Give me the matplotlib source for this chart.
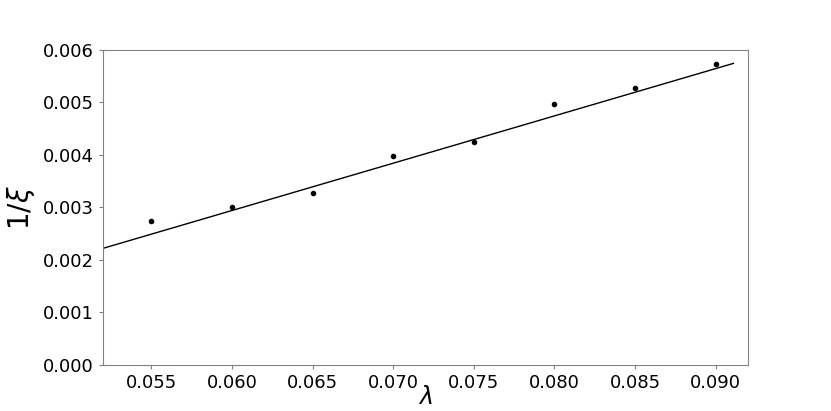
import matplotlib
matplotlib.use("Agg")
import matplotlib.pyplot as plt

lam = [0.055, 0.060, 0.065, 0.070, 0.075, 0.080, 0.085, 0.090]
inv_xi = [0.00274, 0.00300, 0.00328, 0.00397, 0.00425, 0.00497, 0.00527, 0.00572]

# straight fit line as drawn
fit_lam = [0.052, 0.0911]
fit_inv_xi = [0.00222, 0.00574]

fig = plt.figure(figsize=(8.31, 4.11), dpi=100)
ax = fig.add_axes([0.124, 0.112, 0.776, 0.767])

ax.plot(fit_lam, fit_inv_xi, color="black", linewidth=1.0)
ax.plot(lam, inv_xi, "o", color="black", markersize=3)

ax.set_xlim(0.052, 0.092)
ax.set_ylim(0, 0.006)
ax.set_xticks([0.055, 0.060, 0.065, 0.070, 0.075, 0.080, 0.085, 0.090])
ax.set_yticks([0, 0.001, 0.002, 0.003, 0.004, 0.005, 0.006])
ax.set_xticklabels(["%.3f" % v for v in ax.get_xticks()])
ax.set_yticklabels(["%.3f" % v for v in ax.get_yticks()])
ax.tick_params(labelsize=13, color="gray", length=3)
for s in ax.spines.values():
    s.set_color("gray")

ax.set_xlabel(r"$\lambda$", fontsize=17, labelpad=-5)
ax.set_ylabel(r"$1/\xi$", fontsize=20, labelpad=4)

fig.savefig("out.png", dpi=100)
